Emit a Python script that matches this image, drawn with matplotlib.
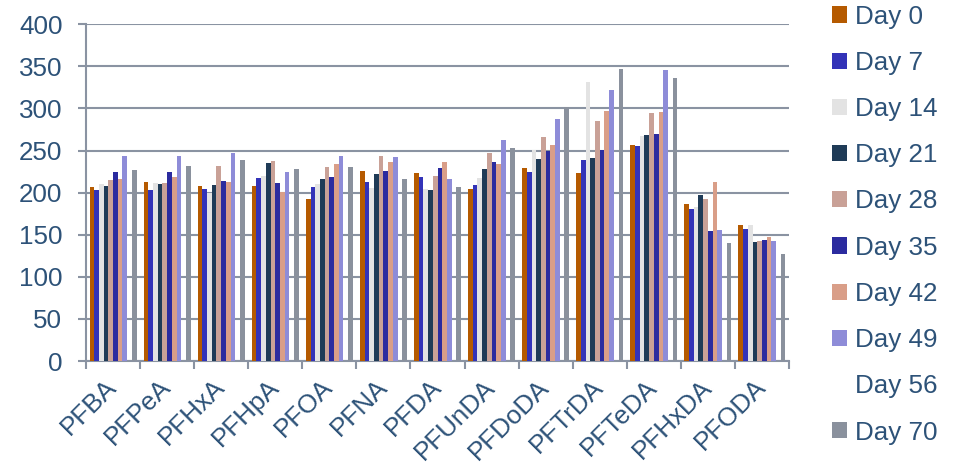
import numpy as np
import matplotlib
matplotlib.use('Agg')
import matplotlib.pyplot as plt
from matplotlib.patches import Patch

compounds = ['PFBA', 'PFPeA', 'PFHxA', 'PFHpA', 'PFOA', 'PFNA', 'PFDA',
             'PFUnDA', 'PFDoDA', 'PFTrDA', 'PFTeDA', 'PFHxDA', 'PFODA']
days = ['Day 0', 'Day 7', 'Day 14', 'Day 21', 'Day 28', 'Day 35',
        'Day 42', 'Day 49', 'Day 56', 'Day 70']

day_0 = [207, 213, 208, 208, 193, 226, 223, 204, 229, 223, 257, 186, 162]
day_7 = [203, 203, 204, 217, 207, 213, 218, 209, 224, 239, 255, 180, 157]
day_14 = [210, 212, 200, 220, 210, 205, 204, 217, 251, 332, 267, 183, 161]
day_21 = [208, 210, 209, 235, 216, 222, 203, 228, 240, 241, 269, 197, 141]
day_28 = [215, 211, 232, 238, 231, 243, 220, 247, 266, 285, 295, 192, 142]
day_35 = [224, 224, 214, 211, 219, 226, 229, 237, 250, 251, 270, 154, 144]
day_42 = [216, 218, 213, 201, 234, 236, 237, 234, 257, 297, 296, 213, 147]
day_49 = [244, 243, 247, 224, 244, 242, 216, 263, 287, 322, 346, 156, 142]
day_56 = [np.nan] * 13  # no measurements
day_70 = [227, 232, 239, 228, 231, 216, 207, 253, 302, 347, 336, 140, 127]

series = [day_0, day_7, day_14, day_21, day_28, day_35,
          day_42, day_49, day_56, day_70]
colors = ['#B55A00', '#3333B8', '#E3E3E3', '#1F3B57', '#C9A197',
          '#2B2B9F', '#D99E88', '#8E8CD8', '#FFFFFF', '#8A919D']

text_color = '#2D5278'
grid_color = '#8A93A2'

plt.rcParams['font.family'] = ['Liberation Sans', 'DejaVu Sans']
plt.rcParams['font.size'] = 18.7

fig = plt.figure(figsize=(9.61, 4.65), dpi=100)
ax = fig.add_axes([86 / 961, 1 - 361 / 465, (789 - 86) / 961, (361 - 24.3) / 465])

n = len(series)
width = 1 / 11.5
centers = np.arange(len(compounds)) + 0.5
for j, (vals, c) in enumerate(zip(series, colors)):
    ax.bar(centers + (j - (n - 1) / 2) * width, vals, width,
           color=c, label=days[j], zorder=3)

ax.set_xlim(0, len(compounds))
ax.set_ylim(0, 400)
ax.set_yticks(np.arange(0, 401, 50))
ax.yaxis.grid(True, color=grid_color, linewidth=1.5)
ax.set_axisbelow(True)

ax.set_xticks(centers)
ax.set_xticklabels(compounds, rotation=45, ha='right', va='center',
                   rotation_mode='anchor')
ax.set_xticks(np.arange(len(compounds) + 1), minor=True)
ax.tick_params(axis='x', which='major', length=0, pad=16, colors=text_color)
ax.tick_params(axis='x', which='minor', length=6, width=1.5, color=grid_color)
ax.tick_params(axis='y', length=6, width=1.5, color=grid_color,
               labelcolor=text_color, pad=11)

for side in ['top', 'right']:
    ax.spines[side].set_visible(False)
for side in ['left', 'bottom']:
    ax.spines[side].set_color(grid_color)
    ax.spines[side].set_linewidth(1.5)

handles = [Patch(facecolor=c, edgecolor='none') for c in colors]
fig.legend(handles, days, loc='upper left', bbox_to_anchor=(832 / 961, 0.99),
           frameon=False, borderpad=0, borderaxespad=0,
           handlelength=0.58, handleheight=0.58, handletextpad=0.3,
           labelspacing=0.855, labelcolor=text_color)

fig.savefig('out.png', dpi=100)
